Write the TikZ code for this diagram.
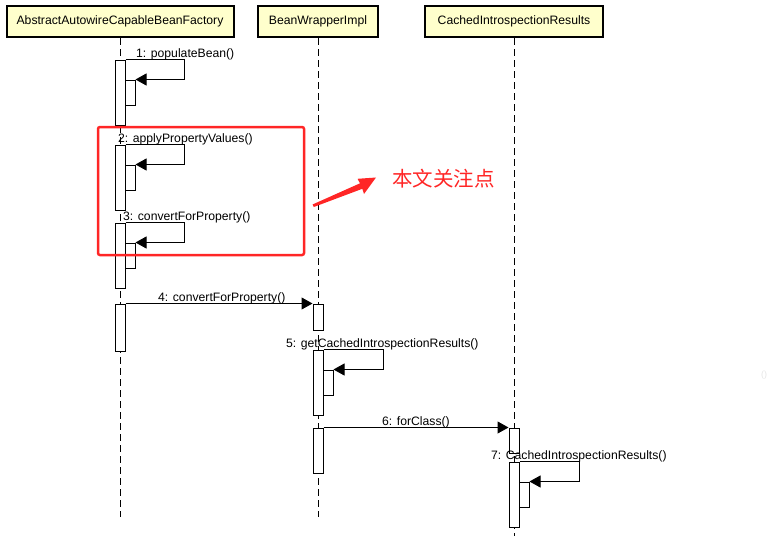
\documentclass[tikz,border=0pt]{standalone}
\usepackage{fontspec}
\setmainfont{Liberation Sans}
\newfontfamily\cjk{Noto Sans CJK SC}
\usetikzlibrary{arrows.meta}
\definecolor{headfill}{RGB}{255,255,204}
\definecolor{markred}{RGB}{255,38,38}
\begin{document}
\begin{tikzpicture}[x=1pt,y=-1pt,
  every node/.style={font=\fontsize{12.2}{14}\selectfont},
  head/.style={draw,line width=2pt,fill=headfill,minimum height=31pt,inner sep=0pt},
  life/.style={line width=1pt,dash pattern=on 7pt off 4pt},
  act/.style={draw,fill=white,line width=1pt,minimum width=10pt,inner sep=0pt},
  msg/.style={line width=1pt,-{Triangle[length=11pt,width=12pt]}},
  lbl/.style={anchor=base west,inner sep=0pt}]
\useasboundingbox (0,0) rectangle (770,536);

% heads
\node[head,minimum width=227pt] (h1) at (120,21.5) {AbstractAutowireCapableBeanFactory};
\node[head,minimum width=120pt] (h2) at (318,21.5) {BeanWrapperImpl};
\node[head,minimum width=178pt] (h3) at (514,21.5) {CachedIntrospectionResults};

% lifelines
\coordinate (e1) at (120,517);
\coordinate (e2) at (318,517);
\coordinate (e3) at (514,536);
\draw[life] (h1.south) -- (e1);
\draw[life] (h2.south) -- (e2);
\draw[life] (h3.south) -- (e3);

% activations lifeline 1
\node[act,minimum height=65pt] (a1) at (120,92.5) {};
\node[act,minimum height=25pt] (n1) at (130,92.5) {};
\draw[msg] (a1.north east) -- ++(59,0) |- (n1.north east);
\node[lbl] (l1) at (136,57) {1: populateBean()};

\node[act,minimum height=65pt] (a2) at (120,177.5) {};
\node[act,minimum height=25pt] (n2) at (130,177.5) {};
\draw[msg] (a2.north east) -- ++(59,0) |- (n2.north east);
\node[lbl] (l2) at (118,142) {2: applyPropertyValues()};

\node[act,minimum height=65pt] (a3) at (120,255.5) {};
\node[act,minimum height=25pt] (n3) at (130,255.5) {};
\draw[msg] (a3.north east) -- ++(59,0) |- (n3.north east);
\node[lbl] (l3) at (123,220) {3: convertForProperty()};

\node[act,minimum height=47pt] (a4) at (120,327.5) {};

% lifeline 2
\node[act,minimum height=26pt] (b1) at (318,317) {};
\draw[msg] (a4.north east) -- (b1.north west);
\node[lbl] (l4) at (158,301) {4: convertForProperty()};

\node[act,minimum height=65pt] (b2) at (318,382.5) {};
\node[act,minimum height=25pt] (nb2) at (328,382.5) {};
\draw[msg] (b2.north east) -- ++(60,0) |- (nb2.north east);
\node[lbl] (l5) at (286,347) {5: getCachedIntrospectionResults()};

\node[act,minimum height=45pt] (b3) at (318,450.5) {};

% lifeline 3
\node[act,minimum height=25pt] (c1) at (514,440.5) {};
\draw[msg] (b3.north east) -- (c1.north west);
\node[lbl] (l6) at (382,425) {6: forClass()};

\node[act,minimum height=65pt] (c2) at (514,494.5) {};
\node[act,minimum height=25pt] (nc2) at (524,494.5) {};
\draw[msg] (c2.north east) -- ++(60,0) |- (nc2.north east);
\node[lbl] (l7) at (491,459) {7: CachedIntrospectionResults()};

% highlight
\draw[markred,line width=2.5pt,rounded corners=2pt] (98,127) rectangle (304,255);
\fill[markred] (312.5,204.5) -- (360,183.3) -- (357.5,178.8) -- (376,177.5) -- (364,194) -- (362.3,188.8) -- (313.8,207) -- cycle;
\node[text=markred,font=\cjk\fontsize{20.5}{24}\selectfont,anchor=west,inner sep=0pt] (note) at (392,179) {本文关注点};

\node[text=black!10,font=\fontsize{9}{10}\selectfont,inner sep=0pt] (ghost) at (764,375) {()};
\end{tikzpicture}
\end{document}
